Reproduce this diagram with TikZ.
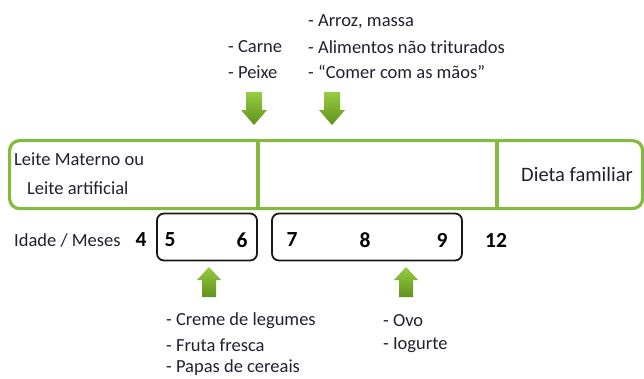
\documentclass[tikz,border=0pt]{standalone}
\usepackage{fontspec}
\setmainfont{Carlito}
\definecolor{bordergreen}{RGB}{132,186,62}
\definecolor{arrowlight}{RGB}{152,204,64}
\definecolor{arrowdark}{RGB}{96,146,28}
\definecolor{txt}{RGB}{32,32,48}
\tikzset{
  lbl/.style={anchor=west,inner sep=0pt,text=txt,font=\fontsize{18.5}{22}\selectfont},
  num/.style={inner sep=0pt,text=black,font=\fontsize{21.5}{24}\selectfont\bfseries},
  agebox/.style={draw=black!90,line width=1.8pt,rounded corners=7pt},
  mainbox/.style={draw=bordergreen,line width=3.2pt,rounded corners=10pt},
  divider/.style={draw=bordergreen,line width=3.2pt},
  garrow/.style={top color=arrowlight,bottom color=arrowdark,draw=none}
}
\newcommand\downarr[2]{% center x, top y
  \path[garrow] (#1-8,#2) -- (#1+8,#2) -- (#1+8,#2+18) -- (#1+13,#2+18) -- (#1,#2+33) -- (#1-13,#2+18) -- (#1-8,#2+18) -- cycle;}
\newcommand\uparr[2]{% center x, tip y
  \path[garrow] (#1,#2) -- (#1+12,#2+13) -- (#1+7,#2+13) -- (#1+7,#2+30) -- (#1-7,#2+30) -- (#1-7,#2+13) -- (#1-12,#2+13) -- cycle;}
\begin{document}
\begin{tikzpicture}[x=1pt,y=-1pt]
\useasboundingbox (0,0) rectangle (644,378);
% main green box
\node[mainbox,minimum width=633pt,minimum height=68pt,anchor=north west] (main) at (8,139) {};
\coordinate (d1t) at (258,139);
\coordinate (d1b) at (258,207);
\coordinate (d2t) at (497,139);
\coordinate (d2b) at (497,207);
\draw[divider] (d1t) -- (d1b);
\draw[divider] (d2t) -- (d2b);
\node[lbl] (lm) at (14,159) {Leite Materno ou};
\node[lbl] (la) at (27,188) {Leite artificial};
\node[lbl,font=\fontsize{20.5}{24}\selectfont] (df) at (521,174) {Dieta familiar};
% age row
\node[lbl] (idade) at (14,240) {Idade / Meses};
\node[num] (n4) at (141,240) {4};
\node[agebox,minimum width=100pt,minimum height=47pt] (b1) at (207,237) {};
\node[agebox,minimum width=190pt,minimum height=47pt] (b2) at (367,237) {};
\node[num] (n5) at (170,240) {5};
\node[num] (n6) at (242,240) {6};
\node[num] (n7) at (292,240) {7};
\node[num] (n8) at (365,240) {8};
\node[num] (n9) at (442,240) {9};
\node[num] (n12) at (496,240) {12};
% arrows
\downarr{254}{92}
\downarr{332}{92}
\uparr{209}{267}
\uparr{406}{267}
% top texts
\node[lbl] (t1) at (228,47) {- Carne};
\node[lbl] (t2) at (228,72) {- Peixe};
\node[lbl] (t3) at (308,22) {- Arroz, massa};
\node[lbl] (t4) at (308,47) {- Alimentos não triturados};
\node[lbl] (t5) at (308,72) {- “Comer com as mãos”};
% bottom texts
\node[lbl] (u1) at (166,321) {- Creme de legumes};
\node[lbl] (u2) at (166,345) {- Fruta fresca};
\node[lbl] (u3) at (166,368) {- Papas de cereais};
\node[lbl] (u4) at (383,321) {- Ovo};
\node[lbl] (u5) at (383,345) {- Iogurte};
\end{tikzpicture}
\end{document}
